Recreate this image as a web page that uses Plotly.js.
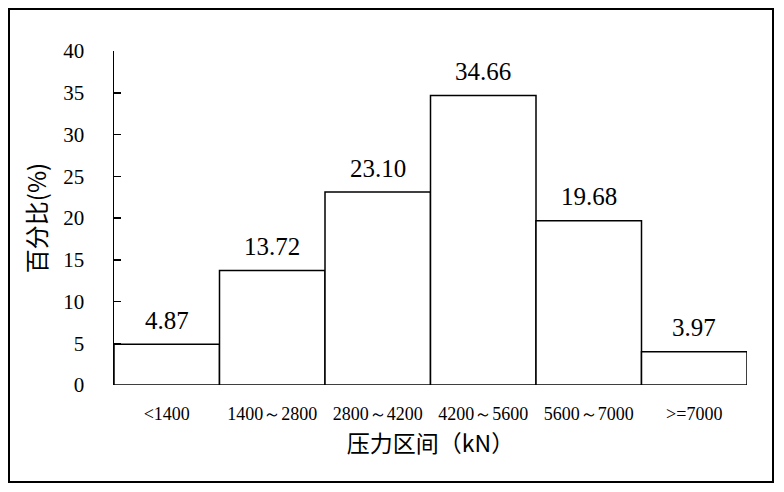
<!DOCTYPE html>
<html>
<head>
<meta charset="utf-8">
<script src="https://cdn.plot.ly/plotly-3.0.1.min.js"></script>
<style>
html,body{margin:0;padding:0;background:#fff;}
#chart{width:784px;height:492px;}
</style>
</head>
<body>
<div id="chart"></div>
<script>
const categories = ["<1400", "1400～2800", "2800～4200", "4200～5600", "5600～7000", ">=7000"];
const percentValues = [4.87, 13.72, 23.10, 34.66, 19.68, 3.97];
const valueLabels = ["4.87", "13.72", "23.10", "34.66", "19.68", "3.97"];
const yTickValues = [0, 5, 10, 15, 20, 25, 30, 35, 40];

function esc(s){return s.replace(/&/g,'&amp;').replace(/</g,'&lt;').replace(/>/g,'&gt;');}
const catLabels = categories.map(esc);

const serif = 'Liberation Serif';
const cjk = 'Noto Sans CJK SC';

const trace = {
  type: 'bar',
  x: catLabels,
  y: percentValues,
  marker: {color: '#ffffff', line: {color: '#000000', width: 1.5}},
  hoverinfo: 'none'
};

const annotations = catLabels.map((c, i) => ({
  x: c, y: percentValues[i], xref: 'x', yref: 'y',
  text: valueLabels[i], showarrow: false,
  yanchor: 'middle', yshift: 24,
  font: {family: serif, size: 25, color: '#000'}
}));

const L = 114, R = 747, T = 51, B = 385;
const px = v => (v - L) / (R - L);
const py = v => (B - v) / (B - T);

const layout = {
  width: 784, height: 492,
  margin: {l: L, r: 784 - R, t: T, b: 492 - B, pad: 0},
  paper_bgcolor: '#ffffff', plot_bgcolor: '#ffffff',
  showlegend: false,
  bargap: 0,
  font: {family: serif, color: '#000'},
  xaxis: {
    type: 'category',
    range: [-0.5, 5.5],
    showline: false, showgrid: false, zeroline: false,
    ticks: '',
    tickfont: {family: serif, size: 18, color: '#000'},
    ticklabelstandoff: 16,
    title: {text: '压力区间（kN）', font: {family: cjk, size: 23, color: '#000'}, standoff: 12}
  },
  yaxis: {
    range: [0, 40],
    tickvals: yTickValues,
    showline: true, linecolor: '#000', linewidth: 1.5,
    showgrid: false, zeroline: false,
    ticks: 'inside', ticklen: 7, tickcolor: '#000', tickwidth: 1.5,
    tickfont: {family: serif, size: 21, color: '#000'},
    ticklabelstandoff: 24,
    title: {text: '百分比(%)', font: {family: cjk, size: 24, color: '#000'}, standoff: 10}
  },
  annotations: annotations,
  shapes: [{
    type: 'rect', xref: 'paper', yref: 'paper',
    x0: px(9), x1: px(773), y0: py(482), y1: py(9),
    line: {color: '#000', width: 2}, fillcolor: 'rgba(0,0,0,0)', layer: 'below'
  }]
};

Plotly.newPlot('chart', [trace], layout, {displayModeBar: false, staticPlot: true});
</script>
</body>
</html>
